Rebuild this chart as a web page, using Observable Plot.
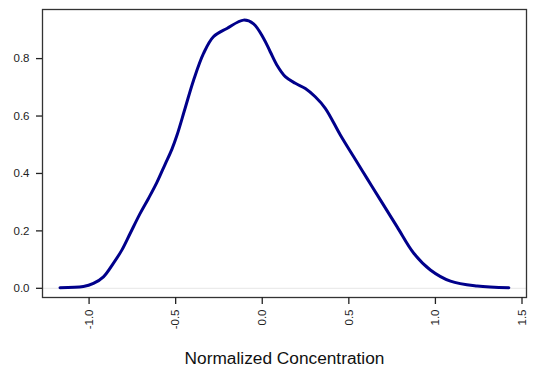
<!DOCTYPE html>
<html>
<head>
<meta charset="utf-8">
<script src="https://cdn.jsdelivr.net/npm/d3@7"></script>
<script src="https://cdn.jsdelivr.net/npm/@observablehq/plot@0.6"></script>
<style>
  html, body { margin: 0; padding: 0; background: #fff; }
  #chart svg { display: block; }
</style>
</head>
<body>
<div id="chart"></div>
<script>
// Kernel density estimate of normalized concentration
const conc = [-1.168, -1.033, -0.975, -0.917, -0.860, -0.811, -0.763, -0.705, -0.657, -0.609,
              -0.561, -0.522, -0.493, -0.445, -0.397, -0.339, -0.282, -0.204, -0.108, -0.050,
               0.008,  0.046,  0.085,  0.133,  0.191,  0.249,  0.306,  0.364,  0.451,  0.528,
               0.605,  0.682,  0.779,  0.875,  0.971,  1.087,  1.241,  1.424];
const density = [0.002, 0.006, 0.017, 0.040, 0.087, 0.133, 0.191, 0.261, 0.313, 0.368,
                 0.432, 0.484, 0.532, 0.628, 0.724, 0.818, 0.876, 0.905, 0.934, 0.921,
                 0.870, 0.824, 0.777, 0.737, 0.714, 0.696, 0.667, 0.627, 0.534, 0.458,
                 0.383, 0.308, 0.214, 0.122, 0.064, 0.025, 0.008, 0.002];
const xTicks = [-1.0, -0.5, 0.0, 0.5, 1.0, 1.5];
const yTicks = [0.0, 0.2, 0.4, 0.6, 0.8];
const xTitle = "Normalized Concentration";

const points = conc.map((x, i) => ({x, y: density[i]}));
const fmt = d => d.toFixed(1);

const chart = Plot.plot({
  width: 533,
  height: 374,
  marginLeft: 42,
  marginRight: 7,
  marginTop: 9,
  marginBottom: 77,
  style: {fontFamily: "'Liberation Sans', Arial, sans-serif", fontSize: "11.5px", color: "#222", background: "#fff"},
  x: {domain: [-1.269, 1.526]},
  y: {domain: [-0.032, 0.971]},
  marks: [
    Plot.ruleY([0], {stroke: "#e6e6e6", strokeWidth: 1}),
    Plot.line(points, {x: "x", y: "y", stroke: "#00008b", strokeWidth: 3, curve: "catmull-rom"}),
    Plot.frame({stroke: "#333", strokeWidth: 1.3}),
    Plot.axisX({ticks: xTicks, tickFormat: fmt, tickRotate: -90, tickSize: 7, tickPadding: 5,
                label: null, stroke: "#222", strokeWidth: 1.3}),
    Plot.axisY({ticks: yTicks, tickFormat: fmt, tickSize: 6, tickPadding: 7,
                label: null, stroke: "#222", strokeWidth: 1.3}),
    Plot.text([xTitle], {frameAnchor: "bottom", dy: 61, fontSize: 17.3, fill: "#111", lineAnchor: "middle"})
  ]
});
document.getElementById("chart").appendChild(chart);
</script>
</body>
</html>
